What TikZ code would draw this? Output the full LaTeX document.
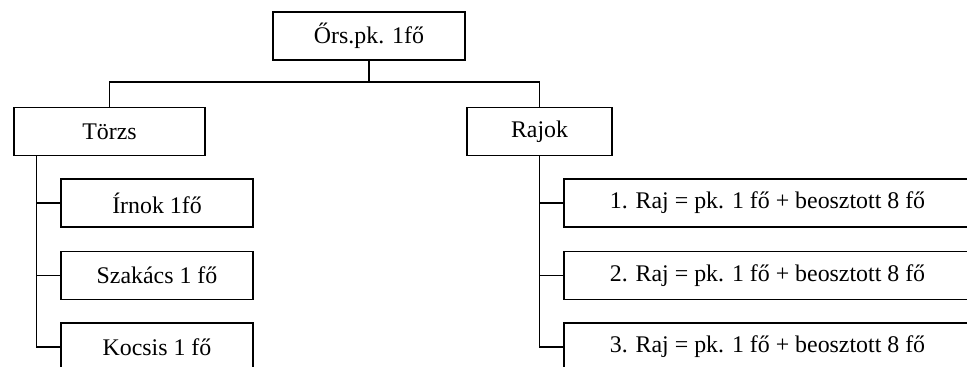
\documentclass[tikz,border=0pt]{standalone}
\usepackage{fontspec}
\setmainfont{Liberation Serif}
\usepackage{tikz}
\usetikzlibrary{positioning,calc}

\tikzset{
    unit/.style={draw, line width=1.1pt, inner sep=0pt, minimum height=48*0.75pt, font=\fontsize{17.9}{21}\selectfont},
    link/.style={line width=1.1pt}
}

\begin{document}
\begin{tikzpicture}[x=0.75pt, y=-0.75pt]
    \clip (0,0) rectangle (967,367);

    % Top level
    \node[unit, minimum width=192*0.75pt] (ors) at (369,36) {Őrs.pk. 1fő};
    \node[unit, minimum width=191*0.75pt] (torzs) at (109.5,131.5) {Törzs};
    \node[unit, minimum width=145*0.75pt] (rajok) at (539.5,131.5) {Rajok};
    \coordinate (bus) at (369,82);

    \draw[link] (ors.south) -- (bus);
    \draw[link] (torzs.north) |- (bus) -| (rajok.north);

    % Torzs branch
    \node[unit, minimum width=192*0.75pt] (irnok) at (157,203) {Írnok 1fő};
    \node[unit, minimum width=192*0.75pt] (szakacs) at (157,275.5) {Szakács 1 fő};
    \node[unit, minimum width=192*0.75pt] (kocsis) at (157,347) {Kocsis 1 fő};
    \coordinate (tstem) at ($(torzs.south west)+(23,0)$);

    \draw[link] (tstem) |- (irnok.west);
    \draw[link] (tstem) |- (szakacs.west);
    \draw[link] (tstem) |- (kocsis.west);

    % Rajok branch
    \node[unit, minimum width=407*0.75pt] (raj1) at (767.5,203) {1. Raj = pk. 1 fő + beosztott 8 fő};
    \node[unit, minimum width=407*0.75pt] (raj2) at (767.5,275.5) {2. Raj = pk. 1 fő + beosztott 8 fő};
    \node[unit, minimum width=407*0.75pt] (raj3) at (767.5,347) {3. Raj = pk. 1 fő + beosztott 8 fő};

    \draw[link] (rajok.south) |- (raj1.west);
    \draw[link] (rajok.south) |- (raj2.west);
    \draw[link] (rajok.south) |- (raj3.west);

\end{tikzpicture}
\end{document}
